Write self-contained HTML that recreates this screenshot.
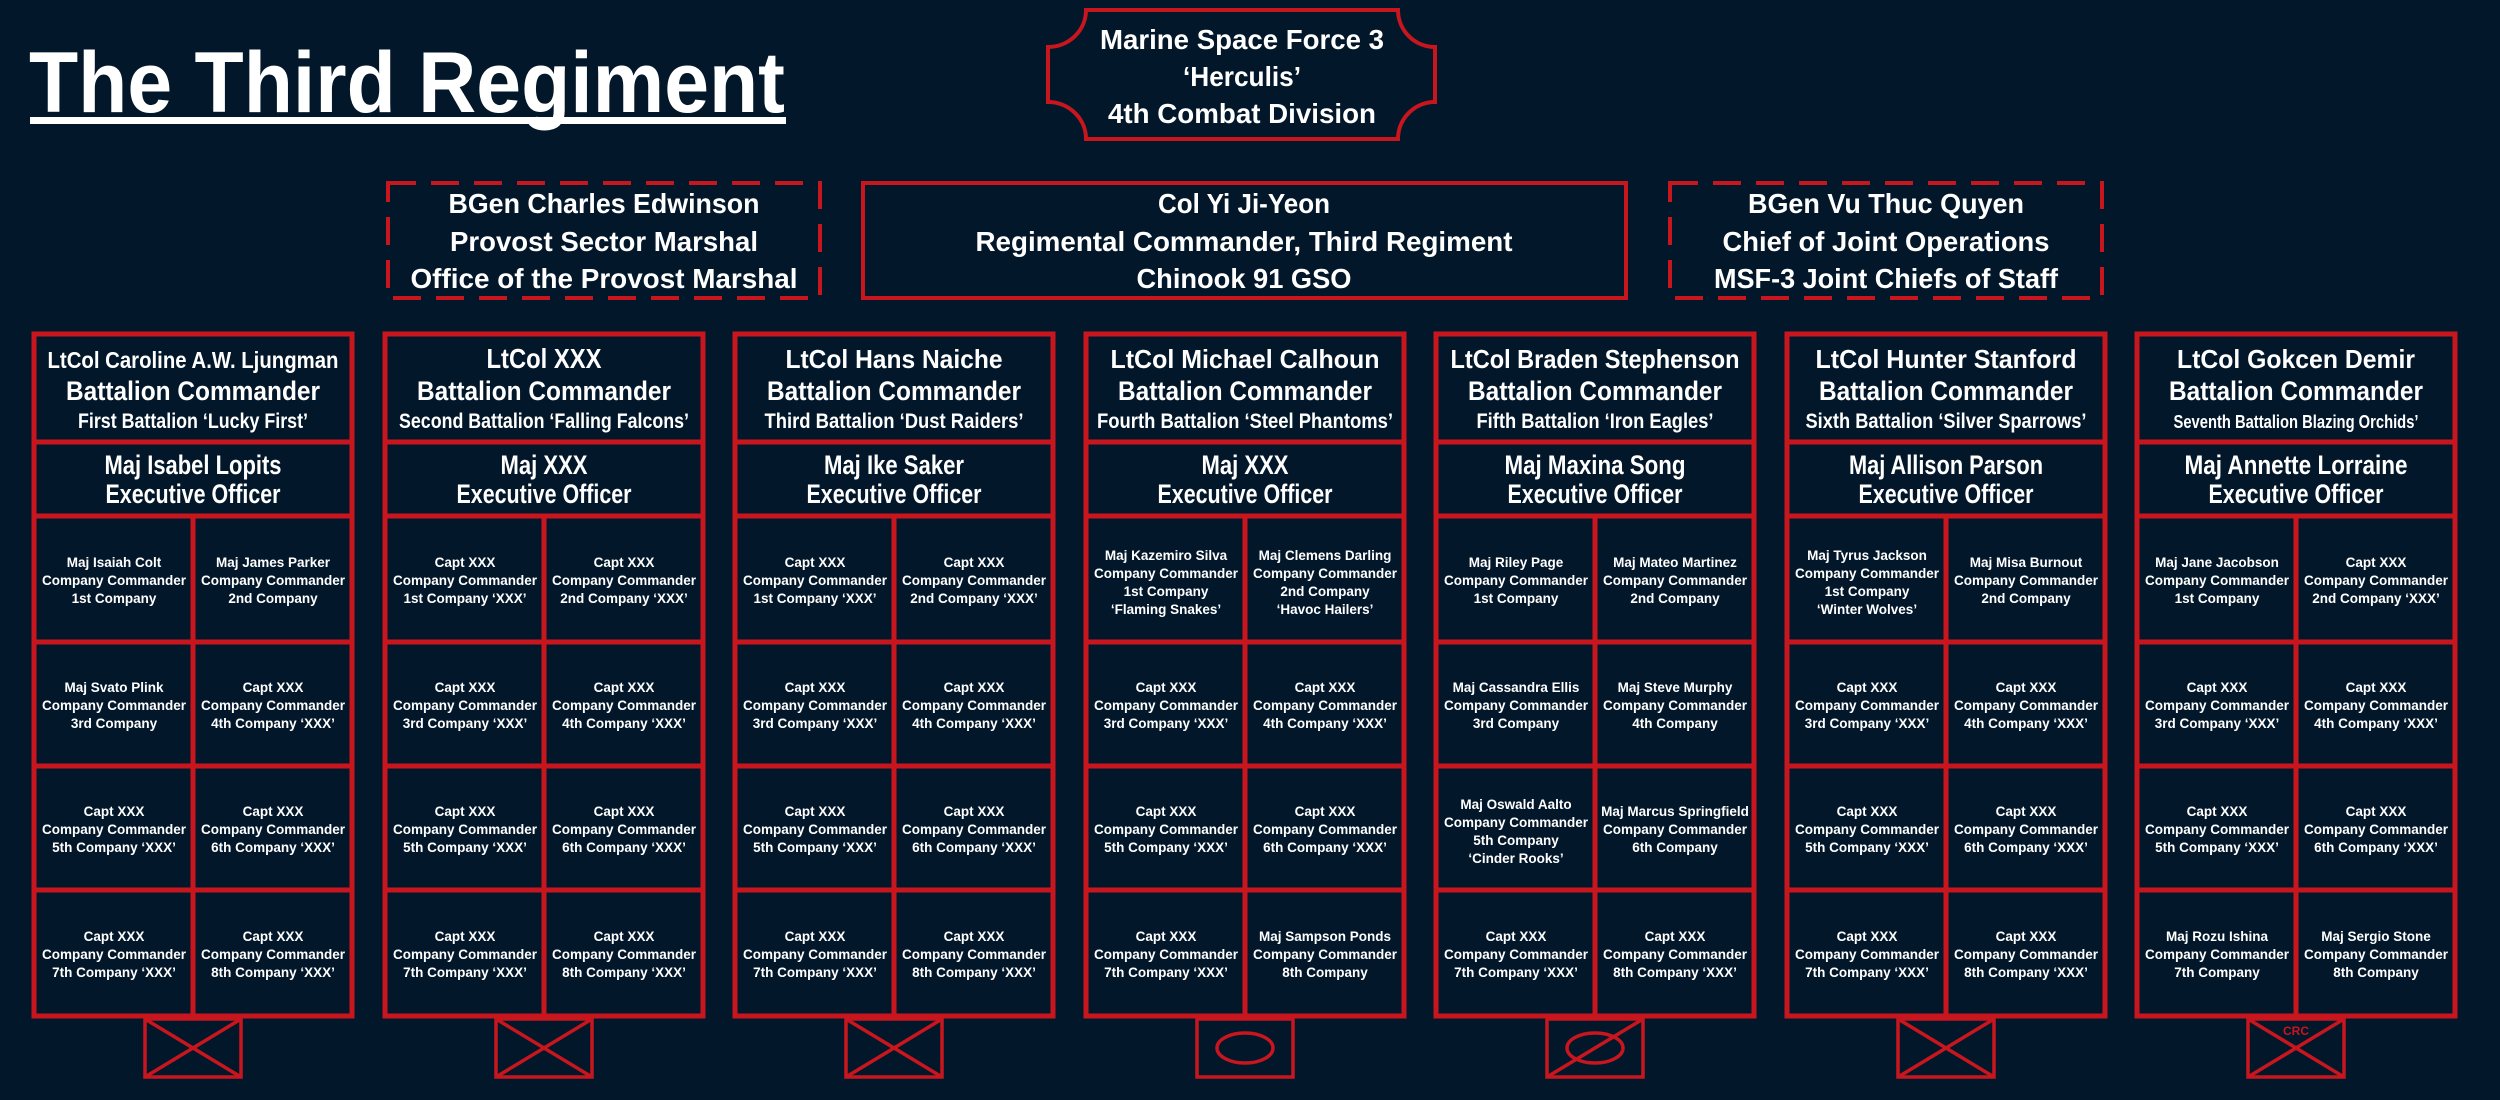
<!DOCTYPE html>
<html><head><meta charset="utf-8"><style>
html,body{margin:0;padding:0;background:#03172a;}
svg{display:block;}
text{font-family:"Liberation Sans",sans-serif;font-weight:bold;fill:#fff;text-anchor:middle;}
.c{font-size:13.5px;}
.h1{font-size:26px;}
.h2{font-size:27px;}
.h3{font-size:21px;}
.x{font-size:27px;}
.t{font-size:28px;}
</style></head><body>
<svg width="2500" height="1100" viewBox="0 0 2500 1100" xmlns="http://www.w3.org/2000/svg">
<rect width="2500" height="1100" fill="#03172a"/>
<!-- title -->
<text x="29" y="112" style="text-anchor:start;font-size:86px" textLength="756" lengthAdjust="spacingAndGlyphs">The Third Regiment</text>
<rect x="30" y="117" width="756" height="7" fill="#fff"/>

<!-- top plaque -->
<path d="M1086,10 L1398,10 A37,37 0 0 0 1435,47 L1435,102 A37,37 0 0 0 1398,139 L1086,139 A38,37 0 0 0 1048,102 L1048,47 A38,37 0 0 0 1086,10 Z" fill="none" stroke="#c8161e" stroke-width="4"/>
<text class="t" x="1242" y="49" textLength="284" lengthAdjust="spacingAndGlyphs">Marine Space Force 3</text>
<text class="t" x="1242" y="86" textLength="118" lengthAdjust="spacingAndGlyphs">‘Herculis’</text>
<text class="t" x="1242" y="123" textLength="268" lengthAdjust="spacingAndGlyphs">4th Combat Division</text>

<!-- row 2 -->
<rect x="388" y="183" width="432" height="115" fill="none" stroke="#c8161e" stroke-width="4" stroke-dasharray="28 15"/>
<rect x="863" y="183" width="763" height="115" fill="none" stroke="#c8161e" stroke-width="4"/>
<rect x="1670" y="183" width="432" height="115" fill="none" stroke="#c8161e" stroke-width="4" stroke-dasharray="28 15"/>
<text class="t" x="604" y="213" textLength="311" lengthAdjust="spacingAndGlyphs">BGen Charles Edwinson</text>
<text class="t" x="604" y="251" textLength="308" lengthAdjust="spacingAndGlyphs">Provost Sector Marshal</text>
<text class="t" x="604" y="288" textLength="387" lengthAdjust="spacingAndGlyphs">Office of the Provost Marshal</text>
<text class="t" x="1244" y="213" textLength="172" lengthAdjust="spacingAndGlyphs">Col Yi Ji-Yeon</text>
<text class="t" x="1244" y="251" textLength="537" lengthAdjust="spacingAndGlyphs">Regimental Commander, Third Regiment</text>
<text class="t" x="1244" y="288" textLength="215" lengthAdjust="spacingAndGlyphs">Chinook 91 GSO</text>
<text class="t" x="1886" y="213" textLength="276" lengthAdjust="spacingAndGlyphs">BGen Vu Thuc Quyen</text>
<text class="t" x="1886" y="251" textLength="327" lengthAdjust="spacingAndGlyphs">Chief of Joint Operations</text>
<text class="t" x="1886" y="288" textLength="344" lengthAdjust="spacingAndGlyphs">MSF-3 Joint Chiefs of Staff</text>

<!-- column grids -->
<g fill="none" stroke="#c8161e" stroke-width="5">
<rect x="34" y="334" width="318" height="682"/><path d="M34,442H352M34,516H352M34,642H352M34,766H352M34,890H352M193,516V1016"/>
<rect x="385" y="334" width="318" height="682"/><path d="M385,442H703M385,516H703M385,642H703M385,766H703M385,890H703M544,516V1016"/>
<rect x="735" y="334" width="318" height="682"/><path d="M735,442H1053M735,516H1053M735,642H1053M735,766H1053M735,890H1053M894,516V1016"/>
<rect x="1086" y="334" width="318" height="682"/><path d="M1086,442H1404M1086,516H1404M1086,642H1404M1086,766H1404M1086,890H1404M1245,516V1016"/>
<rect x="1436" y="334" width="318" height="682"/><path d="M1436,442H1754M1436,516H1754M1436,642H1754M1436,766H1754M1436,890H1754M1595,516V1016"/>
<rect x="1787" y="334" width="318" height="682"/><path d="M1787,442H2105M1787,516H2105M1787,642H2105M1787,766H2105M1787,890H2105M1946,516V1016"/>
<rect x="2137" y="334" width="318" height="682"/><path d="M2137,442H2455M2137,516H2455M2137,642H2455M2137,766H2455M2137,890H2455M2296,516V1016"/>
</g>

<!-- symbols -->
<g fill="none" stroke="#c8161e" stroke-width="3.5">
<rect x="145" y="1019" width="96" height="58"/><path d="M145,1019L241,1077M241,1019L145,1077"/>
<rect x="496" y="1019" width="96" height="58"/><path d="M496,1019L592,1077M592,1019L496,1077"/>
<rect x="846" y="1019" width="96" height="58"/><path d="M846,1019L942,1077M942,1019L846,1077"/>
<rect x="1197" y="1019" width="96" height="58"/><ellipse cx="1245" cy="1048" rx="28" ry="15"/>
<rect x="1547" y="1019" width="96" height="58"/><ellipse cx="1595" cy="1048" rx="28" ry="15"/><path d="M1547,1077L1643,1019"/>
<rect x="1898" y="1019" width="96" height="58"/><path d="M1898,1019L1994,1077M1994,1019L1898,1077"/>
<rect x="2248" y="1019" width="96" height="58"/><path d="M2248,1019L2344,1077M2344,1019L2248,1077"/>
</g>
<text x="2296" y="1035" style="font-size:12px;fill:#c8161e">CRC</text>

<!-- headers -->
<text class="h1" x="193" y="368" textLength="291" lengthAdjust="spacingAndGlyphs" style="font-size:23px">LtCol Caroline A.W. Ljungman</text>
<text class="h2" x="193" y="400" textLength="254" lengthAdjust="spacingAndGlyphs">Battalion Commander</text>
<text class="h3" x="193" y="428" textLength="230" lengthAdjust="spacingAndGlyphs">First Battalion ‘Lucky First’</text>
<text class="x" x="193" y="474" textLength="177" lengthAdjust="spacingAndGlyphs">Maj Isabel Lopits</text>
<text class="x" x="193" y="503" textLength="175" lengthAdjust="spacingAndGlyphs">Executive Officer</text>

<text class="h1" x="544" y="368" textLength="115" lengthAdjust="spacingAndGlyphs" style="font-size:28px">LtCol XXX</text>
<text class="h2" x="544" y="400" textLength="254" lengthAdjust="spacingAndGlyphs">Battalion Commander</text>
<text class="h3" x="544" y="428" textLength="290" lengthAdjust="spacingAndGlyphs">Second Battalion ‘Falling Falcons’</text>
<text class="x" x="544" y="474" textLength="87" lengthAdjust="spacingAndGlyphs">Maj XXX</text>
<text class="x" x="544" y="503" textLength="175" lengthAdjust="spacingAndGlyphs">Executive Officer</text>

<text class="h1" x="894" y="368" textLength="217" lengthAdjust="spacingAndGlyphs">LtCol Hans Naiche</text>
<text class="h2" x="894" y="400" textLength="254" lengthAdjust="spacingAndGlyphs">Battalion Commander</text>
<text class="h3" x="894" y="428" textLength="259" lengthAdjust="spacingAndGlyphs">Third Battalion ‘Dust Raiders’</text>
<text class="x" x="894" y="474" textLength="140" lengthAdjust="spacingAndGlyphs">Maj Ike Saker</text>
<text class="x" x="894" y="503" textLength="175" lengthAdjust="spacingAndGlyphs">Executive Officer</text>

<text class="h1" x="1245" y="368" textLength="269" lengthAdjust="spacingAndGlyphs">LtCol Michael Calhoun</text>
<text class="h2" x="1245" y="400" textLength="254" lengthAdjust="spacingAndGlyphs">Battalion Commander</text>
<text class="h3" x="1245" y="428" textLength="296" lengthAdjust="spacingAndGlyphs">Fourth Battalion ‘Steel Phantoms’</text>
<text class="x" x="1245" y="474" textLength="87" lengthAdjust="spacingAndGlyphs">Maj XXX</text>
<text class="x" x="1245" y="503" textLength="175" lengthAdjust="spacingAndGlyphs">Executive Officer</text>

<text class="h1" x="1595" y="368" textLength="289" lengthAdjust="spacingAndGlyphs">LtCol Braden Stephenson</text>
<text class="h2" x="1595" y="400" textLength="254" lengthAdjust="spacingAndGlyphs">Battalion Commander</text>
<text class="h3" x="1595" y="428" textLength="237" lengthAdjust="spacingAndGlyphs">Fifth Battalion ‘Iron Eagles’</text>
<text class="x" x="1595" y="474" textLength="181" lengthAdjust="spacingAndGlyphs">Maj Maxina Song</text>
<text class="x" x="1595" y="503" textLength="175" lengthAdjust="spacingAndGlyphs">Executive Officer</text>

<text class="h1" x="1946" y="368" textLength="261" lengthAdjust="spacingAndGlyphs">LtCol Hunter Stanford</text>
<text class="h2" x="1946" y="400" textLength="254" lengthAdjust="spacingAndGlyphs">Battalion Commander</text>
<text class="h3" x="1946" y="428" textLength="281" lengthAdjust="spacingAndGlyphs">Sixth Battalion ‘Silver Sparrows’</text>
<text class="x" x="1946" y="474" textLength="194" lengthAdjust="spacingAndGlyphs">Maj Allison Parson</text>
<text class="x" x="1946" y="503" textLength="175" lengthAdjust="spacingAndGlyphs">Executive Officer</text>

<text class="h1" x="2296" y="368" textLength="238" lengthAdjust="spacingAndGlyphs">LtCol Gokcen Demir</text>
<text class="h2" x="2296" y="400" textLength="254" lengthAdjust="spacingAndGlyphs">Battalion Commander</text>
<text class="h3" x="2296" y="428" textLength="245" lengthAdjust="spacingAndGlyphs" style="font-size:18px">Seventh Battalion Blazing Orchids’</text>
<text class="x" x="2296" y="474" textLength="223" lengthAdjust="spacingAndGlyphs">Maj Annette Lorraine</text>
<text class="x" x="2296" y="503" textLength="175" lengthAdjust="spacingAndGlyphs">Executive Officer</text>

<!-- company cells -->
<g class="c">
<!-- col1 -->
<text class="c" x="114" y="567">Maj Isaiah Colt<tspan x="114" dy="18">Company Commander</tspan><tspan x="114" dy="18">1st Company</tspan></text>
<text class="c" x="273" y="567">Maj James Parker<tspan x="273" dy="18">Company Commander</tspan><tspan x="273" dy="18">2nd Company</tspan></text>
<text class="c" x="114" y="692">Maj Svato Plink<tspan x="114" dy="18">Company Commander</tspan><tspan x="114" dy="18">3rd Company</tspan></text>
<text class="c" x="273" y="692">Capt XXX<tspan x="273" dy="18">Company Commander</tspan><tspan x="273" dy="18">4th Company ‘XXX’</tspan></text>
<text class="c" x="114" y="816">Capt XXX<tspan x="114" dy="18">Company Commander</tspan><tspan x="114" dy="18">5th Company ‘XXX’</tspan></text>
<text class="c" x="273" y="816">Capt XXX<tspan x="273" dy="18">Company Commander</tspan><tspan x="273" dy="18">6th Company ‘XXX’</tspan></text>
<text class="c" x="114" y="941">Capt XXX<tspan x="114" dy="18">Company Commander</tspan><tspan x="114" dy="18">7th Company ‘XXX’</tspan></text>
<text class="c" x="273" y="941">Capt XXX<tspan x="273" dy="18">Company Commander</tspan><tspan x="273" dy="18">8th Company ‘XXX’</tspan></text>
<!-- col2 -->
<text class="c" x="465" y="567">Capt XXX<tspan x="465" dy="18">Company Commander</tspan><tspan x="465" dy="18">1st Company ‘XXX’</tspan></text>
<text class="c" x="624" y="567">Capt XXX<tspan x="624" dy="18">Company Commander</tspan><tspan x="624" dy="18">2nd Company ‘XXX’</tspan></text>
<text class="c" x="465" y="692">Capt XXX<tspan x="465" dy="18">Company Commander</tspan><tspan x="465" dy="18">3rd Company ‘XXX’</tspan></text>
<text class="c" x="624" y="692">Capt XXX<tspan x="624" dy="18">Company Commander</tspan><tspan x="624" dy="18">4th Company ‘XXX’</tspan></text>
<text class="c" x="465" y="816">Capt XXX<tspan x="465" dy="18">Company Commander</tspan><tspan x="465" dy="18">5th Company ‘XXX’</tspan></text>
<text class="c" x="624" y="816">Capt XXX<tspan x="624" dy="18">Company Commander</tspan><tspan x="624" dy="18">6th Company ‘XXX’</tspan></text>
<text class="c" x="465" y="941">Capt XXX<tspan x="465" dy="18">Company Commander</tspan><tspan x="465" dy="18">7th Company ‘XXX’</tspan></text>
<text class="c" x="624" y="941">Capt XXX<tspan x="624" dy="18">Company Commander</tspan><tspan x="624" dy="18">8th Company ‘XXX’</tspan></text>
<!-- col3 -->
<text class="c" x="815" y="567">Capt XXX<tspan x="815" dy="18">Company Commander</tspan><tspan x="815" dy="18">1st Company ‘XXX’</tspan></text>
<text class="c" x="974" y="567">Capt XXX<tspan x="974" dy="18">Company Commander</tspan><tspan x="974" dy="18">2nd Company ‘XXX’</tspan></text>
<text class="c" x="815" y="692">Capt XXX<tspan x="815" dy="18">Company Commander</tspan><tspan x="815" dy="18">3rd Company ‘XXX’</tspan></text>
<text class="c" x="974" y="692">Capt XXX<tspan x="974" dy="18">Company Commander</tspan><tspan x="974" dy="18">4th Company ‘XXX’</tspan></text>
<text class="c" x="815" y="816">Capt XXX<tspan x="815" dy="18">Company Commander</tspan><tspan x="815" dy="18">5th Company ‘XXX’</tspan></text>
<text class="c" x="974" y="816">Capt XXX<tspan x="974" dy="18">Company Commander</tspan><tspan x="974" dy="18">6th Company ‘XXX’</tspan></text>
<text class="c" x="815" y="941">Capt XXX<tspan x="815" dy="18">Company Commander</tspan><tspan x="815" dy="18">7th Company ‘XXX’</tspan></text>
<text class="c" x="974" y="941">Capt XXX<tspan x="974" dy="18">Company Commander</tspan><tspan x="974" dy="18">8th Company ‘XXX’</tspan></text>
<!-- col4 -->
<text class="c" x="1166" y="560">Maj Kazemiro Silva<tspan x="1166" dy="18">Company Commander</tspan><tspan x="1166" dy="18">1st Company</tspan><tspan x="1166" dy="18">‘Flaming Snakes’</tspan></text>
<text class="c" x="1325" y="560">Maj Clemens Darling<tspan x="1325" dy="18">Company Commander</tspan><tspan x="1325" dy="18">2nd Company</tspan><tspan x="1325" dy="18">‘Havoc Hailers’</tspan></text>
<text class="c" x="1166" y="692">Capt XXX<tspan x="1166" dy="18">Company Commander</tspan><tspan x="1166" dy="18">3rd Company ‘XXX’</tspan></text>
<text class="c" x="1325" y="692">Capt XXX<tspan x="1325" dy="18">Company Commander</tspan><tspan x="1325" dy="18">4th Company ‘XXX’</tspan></text>
<text class="c" x="1166" y="816">Capt XXX<tspan x="1166" dy="18">Company Commander</tspan><tspan x="1166" dy="18">5th Company ‘XXX’</tspan></text>
<text class="c" x="1325" y="816">Capt XXX<tspan x="1325" dy="18">Company Commander</tspan><tspan x="1325" dy="18">6th Company ‘XXX’</tspan></text>
<text class="c" x="1166" y="941">Capt XXX<tspan x="1166" dy="18">Company Commander</tspan><tspan x="1166" dy="18">7th Company ‘XXX’</tspan></text>
<text class="c" x="1325" y="941">Maj Sampson Ponds<tspan x="1325" dy="18">Company Commander</tspan><tspan x="1325" dy="18">8th Company</tspan></text>
<!-- col5 -->
<text class="c" x="1516" y="567">Maj Riley Page<tspan x="1516" dy="18">Company Commander</tspan><tspan x="1516" dy="18">1st Company</tspan></text>
<text class="c" x="1675" y="567">Maj Mateo Martinez<tspan x="1675" dy="18">Company Commander</tspan><tspan x="1675" dy="18">2nd Company</tspan></text>
<text class="c" x="1516" y="692">Maj Cassandra Ellis<tspan x="1516" dy="18">Company Commander</tspan><tspan x="1516" dy="18">3rd Company</tspan></text>
<text class="c" x="1675" y="692">Maj Steve Murphy<tspan x="1675" dy="18">Company Commander</tspan><tspan x="1675" dy="18">4th Company</tspan></text>
<text class="c" x="1516" y="809">Maj Oswald Aalto<tspan x="1516" dy="18">Company Commander</tspan><tspan x="1516" dy="18">5th Company</tspan><tspan x="1516" dy="18">‘Cinder Rooks’</tspan></text>
<text class="c" x="1675" y="816">Maj Marcus Springfield<tspan x="1675" dy="18">Company Commander</tspan><tspan x="1675" dy="18">6th Company</tspan></text>
<text class="c" x="1516" y="941">Capt XXX<tspan x="1516" dy="18">Company Commander</tspan><tspan x="1516" dy="18">7th Company ‘XXX’</tspan></text>
<text class="c" x="1675" y="941">Capt XXX<tspan x="1675" dy="18">Company Commander</tspan><tspan x="1675" dy="18">8th Company ‘XXX’</tspan></text>
<!-- col6 -->
<text class="c" x="1867" y="560">Maj Tyrus Jackson<tspan x="1867" dy="18">Company Commander</tspan><tspan x="1867" dy="18">1st Company</tspan><tspan x="1867" dy="18">‘Winter Wolves’</tspan></text>
<text class="c" x="2026" y="567">Maj Misa Burnout<tspan x="2026" dy="18">Company Commander</tspan><tspan x="2026" dy="18">2nd Company</tspan></text>
<text class="c" x="1867" y="692">Capt XXX<tspan x="1867" dy="18">Company Commander</tspan><tspan x="1867" dy="18">3rd Company ‘XXX’</tspan></text>
<text class="c" x="2026" y="692">Capt XXX<tspan x="2026" dy="18">Company Commander</tspan><tspan x="2026" dy="18">4th Company ‘XXX’</tspan></text>
<text class="c" x="1867" y="816">Capt XXX<tspan x="1867" dy="18">Company Commander</tspan><tspan x="1867" dy="18">5th Company ‘XXX’</tspan></text>
<text class="c" x="2026" y="816">Capt XXX<tspan x="2026" dy="18">Company Commander</tspan><tspan x="2026" dy="18">6th Company ‘XXX’</tspan></text>
<text class="c" x="1867" y="941">Capt XXX<tspan x="1867" dy="18">Company Commander</tspan><tspan x="1867" dy="18">7th Company ‘XXX’</tspan></text>
<text class="c" x="2026" y="941">Capt XXX<tspan x="2026" dy="18">Company Commander</tspan><tspan x="2026" dy="18">8th Company ‘XXX’</tspan></text>
<!-- col7 -->
<text class="c" x="2217" y="567">Maj Jane Jacobson<tspan x="2217" dy="18">Company Commander</tspan><tspan x="2217" dy="18">1st Company</tspan></text>
<text class="c" x="2376" y="567">Capt XXX<tspan x="2376" dy="18">Company Commander</tspan><tspan x="2376" dy="18">2nd Company ‘XXX’</tspan></text>
<text class="c" x="2217" y="692">Capt XXX<tspan x="2217" dy="18">Company Commander</tspan><tspan x="2217" dy="18">3rd Company ‘XXX’</tspan></text>
<text class="c" x="2376" y="692">Capt XXX<tspan x="2376" dy="18">Company Commander</tspan><tspan x="2376" dy="18">4th Company ‘XXX’</tspan></text>
<text class="c" x="2217" y="816">Capt XXX<tspan x="2217" dy="18">Company Commander</tspan><tspan x="2217" dy="18">5th Company ‘XXX’</tspan></text>
<text class="c" x="2376" y="816">Capt XXX<tspan x="2376" dy="18">Company Commander</tspan><tspan x="2376" dy="18">6th Company ‘XXX’</tspan></text>
<text class="c" x="2217" y="941">Maj Rozu Ishina<tspan x="2217" dy="18">Company Commander</tspan><tspan x="2217" dy="18">7th Company</tspan></text>
<text class="c" x="2376" y="941">Maj Sergio Stone<tspan x="2376" dy="18">Company Commander</tspan><tspan x="2376" dy="18">8th Company</tspan></text>
</g>
</svg>
</body></html>
